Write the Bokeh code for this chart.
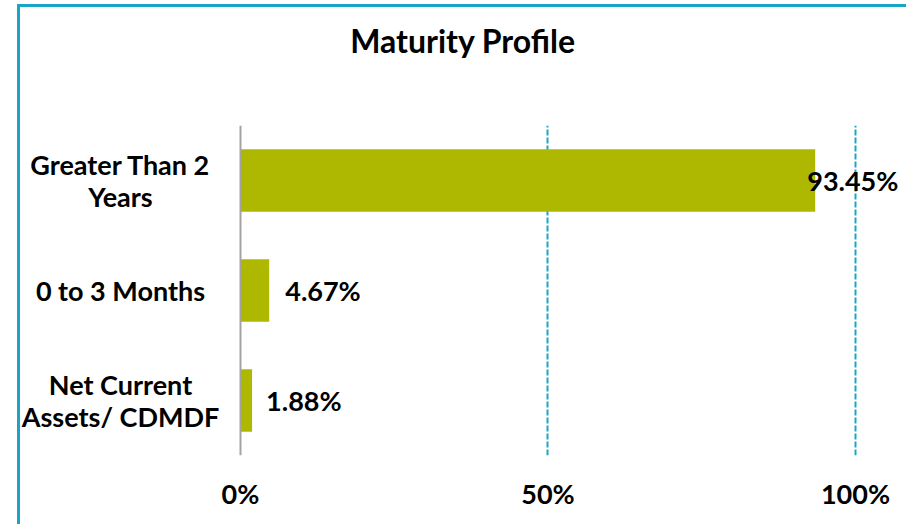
from bokeh.plotting import figure
from bokeh.models import (ColumnDataSource, FactorRange, Range1d, FixedTicker,
                          NumeralTickFormatter, Span, Title)
from bokeh.core.properties import value
from bokeh.embed import file_html
from bokeh.resources import INLINE

# ---- data ----
categories = ["Greater Than 2 Years", "0 to 3 Months", "Net Current Assets/ CDMDF"]
category_labels = ["Greater Than 2\nYears", "0 to 3 Months", "Net Current\nAssets/ CDMDF"]
values = [0.9345, 0.0467, 0.0188]
value_labels = ["93.45%", "4.67%", "1.88%"]
x_ticks = [0, 0.5, 1.0]
title_text = "Maturity Profile"

# style
label_offsets = [-8, 16, 14]
FONT = "Lato"
BAR = "#AEB800"
CYAN = "#19A6C6"

src = ColumnDataSource(dict(cat=categories, clab=category_labels, val=values,
                            vlab=value_labels, xoff=label_offsets,
                            zero=[0] * len(values)))

p = figure(width=889, height=520, output_backend="svg", toolbar_location=None,
           y_range=FactorRange(factors=list(reversed(categories))),
           x_range=Range1d(-0.35772, 1.0813),
           min_border_left=0, min_border_right=4, min_border_top=118,
           min_border_bottom=72, title=None)
p.styles = {"margin-left": "17px", "margin-top": "4px",
            "border-left": f"3px solid {CYAN}", "border-top": f"3px solid {CYAN}"}

# spacer between title and plot area, then the title itself
p.add_layout(Title(text=" ", text_font=FONT, text_font_size="32px",
                   standoff=25, align="center"), "above")
p.add_layout(Title(text=title_text, text_font=FONT, text_font_size="32px",
                   text_font_style="bold", text_color="#000000",
                   standoff=0, align="center"), "above")

p.outline_line_color = None
p.background_fill_color = "white"
p.border_fill_color = "white"

p.hbar(y="cat", right="val", height=0.57, left=0, source=src,
       fill_color=BAR, line_color=None)

p.text(x="val", y="cat", text="vlab", x_offset="xoff", source=src,
       text_font=value(FONT), text_align="left",
       text_baseline="middle", text_font_size="27px", text_font_style="bold",
       text_color="#000000")

# category labels, anchored on the value axis origin
p.text(x="zero", y="cat", text="clab", x_offset=-120, source=src,
       text_font=value(FONT), text_align="center", text_baseline="middle",
       text_font_size="27px", text_font_style="bold", text_color="#000000",
       text_line_height=0.99)

p.yaxis.visible = False
p.add_layout(Span(location=0, dimension="height", line_color="#A3A3A3",
                  line_width=2))

# x axis
p.xaxis.ticker = FixedTicker(ticks=x_ticks)
p.xaxis.formatter = NumeralTickFormatter(format="0%")
p.xaxis.axis_line_color = None
p.xaxis.major_tick_line_color = None
p.xaxis.minor_tick_line_color = None
p.xaxis.major_label_text_font = FONT
p.xaxis.major_label_text_font_size = "27px"
p.xaxis.major_label_text_font_style = "bold"
p.xaxis.major_label_text_color = "#000000"
p.xaxis.major_label_standoff = 15

p.ygrid.grid_line_color = None
p.xgrid.ticker = FixedTicker(ticks=x_ticks[1:])
p.xgrid.grid_line_color = CYAN
p.xgrid.grid_line_width = 2
p.xgrid.grid_line_dash = "6 2"

open("out.html", "w").write(file_html(p, INLINE))
